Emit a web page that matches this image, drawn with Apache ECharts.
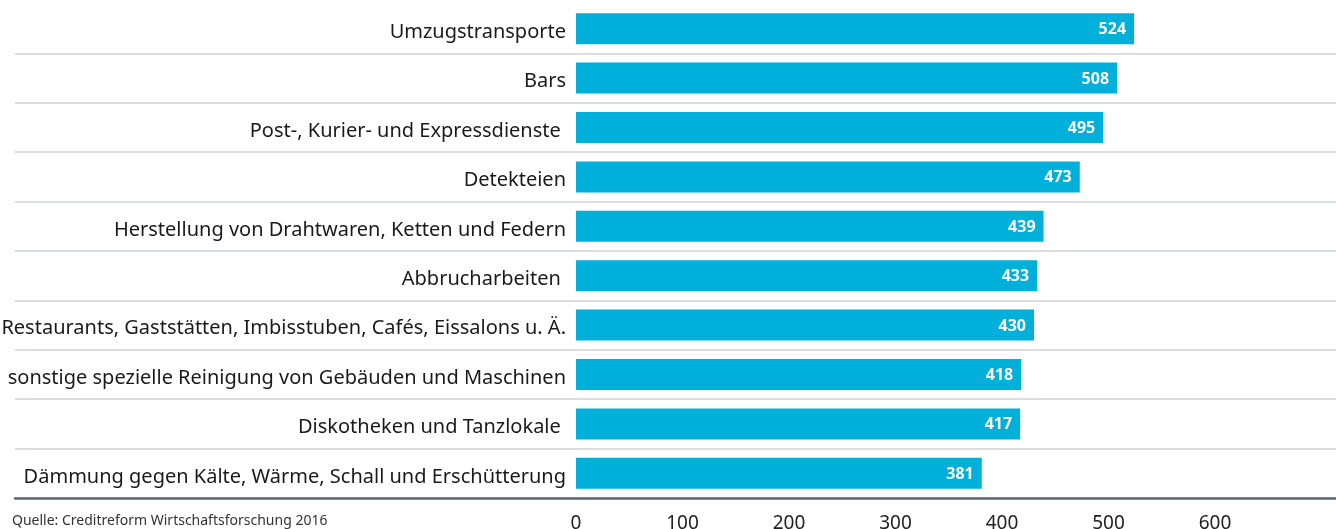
<!DOCTYPE html>
<html>
<head>
<meta charset="utf-8">
<script src="https://cdn.jsdelivr.net/npm/echarts@6/dist/echarts.min.js"></script>
<style>
  html, body { margin: 0; padding: 0; background: #fff; }
  #main { width: 1336px; height: 529px; }
</style>
</head>
<body>
<div id="main"></div>
<script>
// Branchen (von oben nach unten)
const categories = [
  'Umzugstransporte',
  'Bars',
  'Post-, Kurier- und Expressdienste ',
  'Detekteien',
  'Herstellung von Drahtwaren, Ketten und Federn',
  'Abbrucharbeiten ',
  'Restaurants, Gaststätten, Imbisstuben, Cafés, Eissalons u. Ä.',
  'sonstige spezielle Reinigung von Gebäuden und Maschinen',
  'Diskotheken und Tanzlokale ',
  'Dämmung gegen Kälte, Wärme, Schall und Erschütterung'
];
const values = [524, 508, 495, 473, 439, 433, 430, 418, 417, 381];
const tickLabels = ['0', '100', '200', '300', '400', '500', '600'];
const source = 'Quelle: Creditreform Wirtschaftsforschung 2016';

const font = '"Noto Sans", sans-serif';
const chart = echarts.init(document.getElementById('main'));

const option = {
  animation: false,
  textStyle: { fontFamily: font },
  graphic: [{
    type: 'text',
    left: 12,
    top: 514,
    style: { text: source, font: '14px ' + font, fill: '#333' }
  }],
  grid: [
    { left: 15, right: 0, top: 4, height: 494, outerBoundsMode: 'none', containLabel: false },
    { left: 576, right: 0, top: 4, height: 494, outerBoundsMode: 'none', containLabel: false }
  ],
  xAxis: [
    {
      gridIndex: 0, type: 'value', min: 0, max: 1,
      axisLine: { show: true, lineStyle: { color: '#5d6770', width: 2.5 } },
      axisTick: { show: false }, axisLabel: { show: false }, splitLine: { show: false }
    },
    {
      gridIndex: 1, type: 'value', min: 0, max: 713.6, interval: 100,
      axisLine: { show: false }, axisTick: { show: false }, splitLine: { show: false },
      axisLabel: {
        margin: 16, fontSize: 19, color: '#222',
        formatter: v => tickLabels.includes(String(v)) ? String(v) : ''
      }
    }
  ],
  yAxis: [
    {
      gridIndex: 0, type: 'category', data: categories, inverse: true,
      axisLine: { show: false }, axisTick: { show: false }, axisLabel: { show: false },
      splitLine: { show: true, interval: (i) => i !== 0, lineStyle: { color: '#ccd2d7', width: 1.5 } }
    },
    {
      gridIndex: 1, type: 'category', data: categories, inverse: true,
      axisLine: { show: false }, axisTick: { show: false }, splitLine: { show: false },
      axisLabel: {
        margin: 10, fontSize: 20, color: '#1a1a1a',
        verticalAlign: 'top', lineHeight: 7
      }
    }
  ],
  series: [{
    type: 'bar',
    xAxisIndex: 1, yAxisIndex: 1,
    data: values,
    barWidth: 31,
    itemStyle: { color: '#00b0db' },
    label: {
      show: true, position: 'insideRight', distance: 8,
      color: '#fff', fontWeight: 'bold', fontSize: 16,
      verticalAlign: 'top', lineHeight: 2
    }
  }]
};
chart.setOption(option);
</script>
</body>
</html>
